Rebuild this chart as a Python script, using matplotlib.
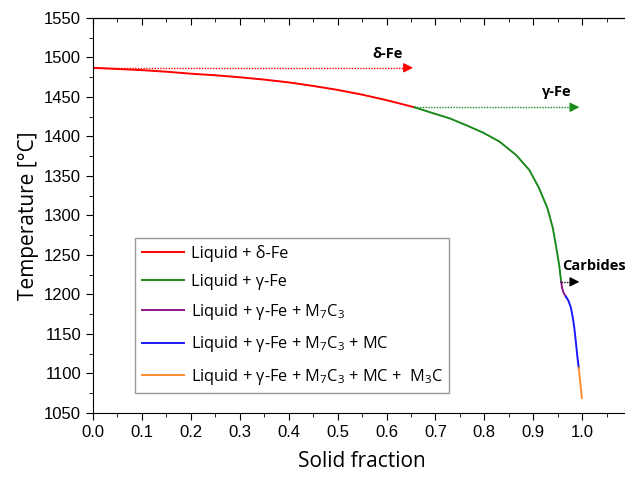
import matplotlib
matplotlib.use('Agg')
import matplotlib.pyplot as plt
from matplotlib.ticker import MultipleLocator

# solidification path (solid fraction, temperature in C)
f_delta = [0.0, 0.05, 0.1, 0.15, 0.2, 0.25, 0.3, 0.35, 0.4, 0.45, 0.5, 0.55, 0.6, 0.657]
t_delta = [1487, 1485.5, 1484, 1482, 1479.5, 1477.5, 1475, 1472, 1468.5, 1464, 1459, 1453, 1446, 1437]
f_gamma = [0.657, 0.695, 0.729, 0.762, 0.797, 0.831, 0.865, 0.892, 0.912, 0.929, 0.940, 0.946, 0.953, 0.957]
t_gamma = [1437, 1429.5, 1423, 1414.5, 1405, 1393.5, 1376.5, 1357.5, 1334.5, 1309, 1284, 1263, 1237, 1216]
f_m7c3 = [0.957, 0.959, 0.962, 0.967]
t_m7c3 = [1216, 1208, 1202, 1197]
f_mc = [0.967, 0.972, 0.977, 0.981, 0.984, 0.987, 0.990, 0.993]
t_mc = [1197, 1192, 1183, 1170, 1157, 1140, 1122, 1107]
f_m3c = [0.993, 0.9993]
t_m3c = [1107, 1069]

labels = ['Liquid + \u03b4-Fe',
          'Liquid + \u03b3-Fe',
          'Liquid + \u03b3-Fe + $\\mathregular{M_7C_3}$',
          'Liquid + \u03b3-Fe + $\\mathregular{M_7C_3}$ + MC',
          'Liquid + \u03b3-Fe + $\\mathregular{M_7C_3}$ + MC +  $\\mathregular{M_3C}$']
colors = ['#ff0000', '#1a8a1a', '#8b1a8b', '#1a1aff', '#ff8c2a']

plt.rcParams['font.family'] = ['Liberation Sans', 'DejaVu Sans']
plt.rcParams['mathtext.fontset'] = 'custom'
plt.rcParams['mathtext.rm'] = 'Open Sans'
label_font = ['Open Sans', 'DejaVu Sans']

fig = plt.figure(figsize=(6.25, 4.8), dpi=100)
ax = fig.add_axes([0.1488, 0.1396, 0.861, 0.8229])

segments = [(f_delta, t_delta), (f_gamma, t_gamma), (f_m7c3, t_m7c3), (f_mc, t_mc), (f_m3c, t_m3c)]
for (fs, ts), c, lab in zip(segments, colors, labels):
  ax.plot(fs, ts, color=c, lw=1.4, label=lab, solid_joinstyle='round')

# dotted arrows marking the start of each phase
def phase_arrow(x0, x1, y, color):
  ax.plot([x0, x1 - 0.02], [y, y], color=color, lw=1.0, ls=(0, (1, 1)))
  ax.annotate('', xy=(x1, y), xytext=(x1 - 0.025, y),
              arrowprops=dict(arrowstyle='-|>', color=color, lw=1.0, mutation_scale=14))

phase_arrow(f_delta[0], 0.66, t_delta[0], colors[0])
phase_arrow(f_gamma[0], 1.0, t_gamma[0], colors[1])
phase_arrow(f_m7c3[0], 1.0, t_m7c3[0], 'black')

ax.text(0.602, 1496, '\u03b4-Fe', family=label_font, fontsize=10.5, fontweight='bold', ha='center', va='bottom')
ax.text(0.949, 1447, '\u03b3-Fe', family=label_font, fontsize=10.5, fontweight='bold', ha='center', va='bottom')
ax.text(0.958, 1236, 'Carbides', family=label_font, fontsize=10.5, fontweight='bold', ha='left', va='center')

ax.set_xlim(0, 1.1)
ax.set_ylim(1050, 1550)
ax.set_xticks([i / 10 for i in range(11)])
ax.set_xticklabels(['%.1f' % (i / 10) for i in range(11)])
ax.xaxis.set_minor_locator(MultipleLocator(0.05))
ax.yaxis.set_major_locator(MultipleLocator(50))
ax.yaxis.set_minor_locator(MultipleLocator(25))
ax.tick_params(which='both', direction='out', labelsize=12)
ax.tick_params(which='major', length=5)
ax.tick_params(which='minor', length=3)
ax.spines['right'].set_visible(False)

# top axis: inward ticks, no labels
top = ax.secondary_xaxis('top')
top.set_xticks([i / 10 for i in range(12)])
top.xaxis.set_minor_locator(MultipleLocator(0.05))
top.tick_params(which='both', direction='in', labeltop=False)
top.tick_params(which='major', length=5)
top.tick_params(which='minor', length=3)

ax.set_xlabel('Solid fraction', family=label_font, fontsize=15, labelpad=8)
ax.set_ylabel('Temperature [\u00b0C]', family=label_font, fontsize=15, labelpad=4)

leg = ax.legend(loc='lower left', bbox_to_anchor=(0.078, 0.05), prop={'family': label_font, 'size': 11.8},
                frameon=True, fancybox=False, edgecolor='#808080', handlelength=2.6, handletextpad=0.4,
                labelspacing=0.75, borderpad=0.4, borderaxespad=0)
leg.get_frame().set_linewidth(1.0)

fig.savefig('out.png', dpi=100)
